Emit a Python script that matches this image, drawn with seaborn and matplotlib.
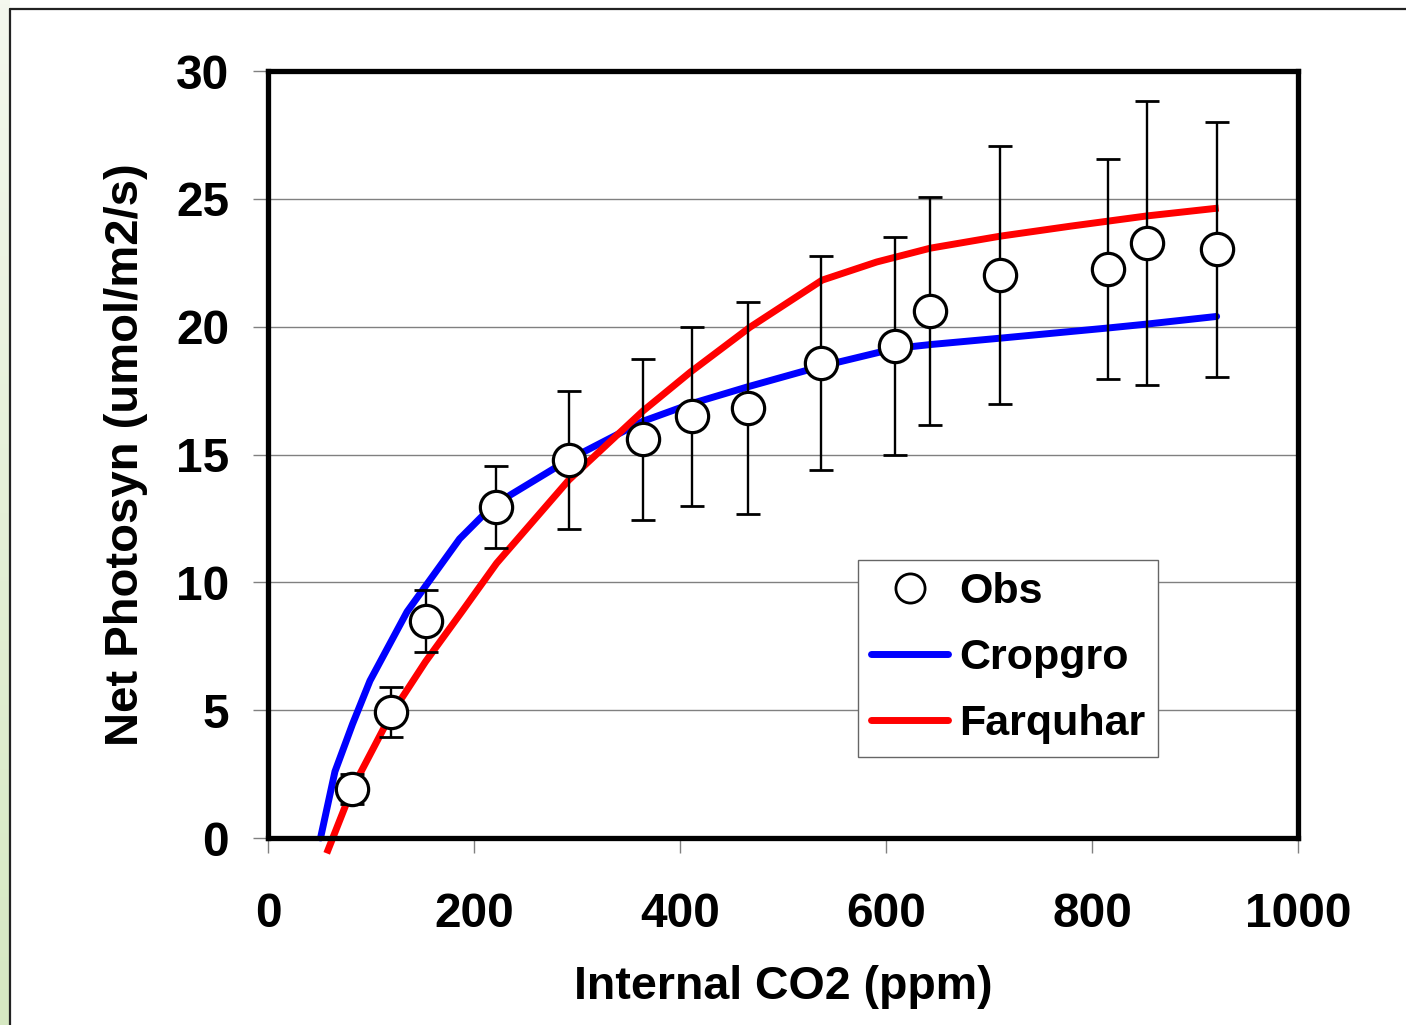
import numpy as np
import pandas as pd
import matplotlib
matplotlib.use("Agg")
import matplotlib.pyplot as plt
from matplotlib.lines import Line2D
import seaborn as sns

# Observed net photosynthesis vs internal CO2
obs_co2 = [82, 119, 153, 221, 292, 364, 412, 466, 537, 609, 643, 711, 816, 853, 921]
obs_photo = [1.92, 4.93, 8.49, 12.94, 14.78, 15.60, 16.50, 16.82, 18.58, 19.24, 20.61, 22.02, 22.25, 23.27, 23.03]
obs_sd = [0.6, 0.97, 1.2, 1.6, 2.7, 3.15, 3.5, 4.15, 4.2, 4.25, 4.45, 5.05, 4.3, 5.57, 4.98]

# CROPGRO model curve
cropgro_co2 = [51, 65, 82, 99, 135, 186, 209, 235, 292, 364, 412, 466, 537, 609, 643, 711, 816, 853, 921]
cropgro_photo = [0.0, 2.6, 4.45, 6.15, 8.85, 11.7, 12.63, 13.41, 14.8, 16.3, 17.0, 17.65, 18.45, 19.15, 19.3, 19.55, 19.95, 20.1, 20.4]

# Farquhar model curve
farquhar_co2 = [57, 82, 119, 153, 188, 222, 292, 364, 410, 468, 538, 591, 643, 711, 779, 853, 923]
farquhar_photo = [-0.6, 1.95, 4.8, 6.9, 8.84, 10.75, 14.0, 16.7, 18.22, 19.98, 21.82, 22.53, 23.07, 23.54, 23.93, 24.33, 24.64]

x_ticks = [0, 200, 400, 600, 800, 1000]
y_ticks = [0, 5, 10, 15, 20, 25, 30]

obs_df = pd.DataFrame({"co2": obs_co2, "photo": obs_photo, "sd": obs_sd})
crop_df = pd.DataFrame({"co2": cropgro_co2, "photo": cropgro_photo})
farq_df = pd.DataFrame({"co2": farquhar_co2, "photo": farquhar_photo})

sns.set_theme(style="white")
plt.rcParams["font.family"] = ["Liberation Sans", "DejaVu Sans"]
plt.rcParams["font.weight"] = "bold"
plt.rcParams["text.color"] = "black"
plt.rcParams["axes.labelcolor"] = "black"

fig = plt.figure(figsize=(14.06, 10.25), dpi=100)
fig.patch.set_facecolor("white")

# pale green strip on the far left with a thin frame line
strip = fig.add_axes([0, 0, 10 / 1406, 1])
grad = np.linspace(0, 1, 256).reshape(-1, 1)
strip.imshow(grad, aspect="auto", cmap=matplotlib.colors.LinearSegmentedColormap.from_list(
    "g", ["#d6e8c2", "#f4f8ee"]), origin="lower", extent=[0, 1, 0, 1])
strip.set_axis_off()
fig.add_artist(Line2D([10 / 1406, 10 / 1406], [0, 1 - 9 / 1025], transform=fig.transFigure,
                      color="#222222", lw=1.6))
fig.add_artist(Line2D([10 / 1406, 1], [1 - 9 / 1025, 1 - 9 / 1025], transform=fig.transFigure,
                      color="#222222", lw=1.6))

ax = fig.add_axes([268 / 1406, 187 / 1025, 1030 / 1406, 767 / 1025])
ax.set_facecolor("white")

sns.lineplot(data=crop_df, x="co2", y="photo", ax=ax, color="#0000ff", lw=5.0,
             sort=False, solid_capstyle="round", zorder=3, clip_on=False)
sns.lineplot(data=farq_df, x="co2", y="photo", ax=ax, color="#ff0000", lw=5.0,
             sort=False, solid_capstyle="butt", zorder=3.2, clip_on=False)
ax.errorbar(obs_df["co2"], obs_df["photo"], yerr=obs_df["sd"], fmt="none",
            ecolor="black", elinewidth=1.7, capsize=8.5, capthick=2.0, zorder=4)
sns.scatterplot(data=obs_df, x="co2", y="photo", ax=ax, s=540, color="white",
                edgecolor="black", linewidth=2.3, zorder=5, clip_on=False)

ax.set_xlim(0, 1000)
ax.set_ylim(0, 30)
ax.set_xticks(x_ticks)
ax.set_yticks(y_ticks)
ax.set_xticklabels([str(t) for t in x_ticks])
ax.set_yticklabels([str(t) for t in y_ticks])
ax.yaxis.grid(True, color="#808080", lw=1.0)
ax.xaxis.grid(False)
ax.set_axisbelow(True)

for sp in ax.spines.values():
    sp.set_visible(True)
    sp.set_color("black")
    sp.set_linewidth(3.8)
    sp.set_zorder(6)

ax.tick_params(axis="both", which="major", direction="out", length=11, width=1.0,
               color="#808080", labelsize=34.5, labelcolor="black")
ax.tick_params(axis="x", pad=28, bottom=True)
ax.tick_params(axis="y", pad=17, left=True)
for lbl in ax.get_xticklabels() + ax.get_yticklabels():
    lbl.set_fontweight("bold")

ax.set_xlabel("Internal CO2 (ppm)", fontsize=33.5, fontweight="bold", labelpad=20, color="black")
ax.set_ylabel("Net Photosyn (umol/m2/s)", fontsize=34, fontweight="bold", labelpad=20, color="black")

handles = [
    Line2D([], [], ls="none", marker="o", markersize=21, markerfacecolor="white",
           markeredgecolor="black", markeredgewidth=2.0),
    Line2D([], [], color="#0000ff", lw=5.0, solid_capstyle="round"),
    Line2D([], [], color="#ff0000", lw=5.0, solid_capstyle="round"),
]
leg = ax.legend(handles, ["Obs", "Cropgro", "Farquhar"], loc="lower left",
                bbox_to_anchor=(0.573, 0.1056), prop={"weight": "bold", "size": 31},
                frameon=True, fancybox=False, framealpha=1, edgecolor="#666666",
                handlelength=1.79, handletextpad=0.25, labelspacing=0.6,
                borderpad=0.3, borderaxespad=0)
leg.get_frame().set_linewidth(1.0)
leg.set_zorder(7)
for t in leg.get_texts():
    t.set_color("black")

fig.savefig("out.png", dpi=100, facecolor="white")
